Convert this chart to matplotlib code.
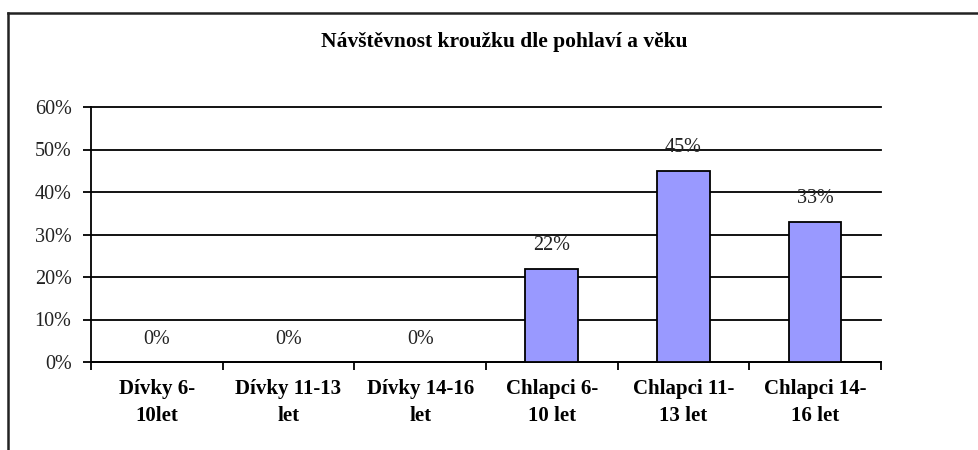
import matplotlib
matplotlib.use("Agg")
import matplotlib.pyplot as plt
from matplotlib.lines import Line2D
from matplotlib.ticker import FuncFormatter

categories = ["Dívky 6-\n10let", "Dívky 11-13\nlet", "Dívky 14-16\nlet",
              "Chlapci 6-\n10 let", "Chlapci 11-\n13 let", "Chlapci 14-\n16 let"]
values = [0, 0, 0, 22, 45, 33]
yticks = [0, 10, 20, 30, 40, 50, 60]
title = "Návštěvnost kroužku dle pohlaví a věku"

plt.rcParams['font.family'] = ['Liberation Serif', 'DejaVu Serif']

fig = plt.figure(figsize=(9.79, 4.5), dpi=100)
ax = fig.add_axes([91/979, 1 - 362/450, (881-91)/979, (362-107)/450])

x = list(range(len(categories)))
ax.bar(x, values, width=0.4, color='#9999ff', edgecolor='black', linewidth=1.3, zorder=3)
for xi, v in zip(x, values):
    ax.annotate(f"{v}%", (xi, v), xytext=(0, 16.5), textcoords='offset points',
                ha='center', va='center', fontsize=14.5, color='#222222')

ax.set_xlim(-0.5, len(categories) - 0.5)
ax.set_ylim(0, 60)
ax.set_yticks(yticks)
ax.yaxis.set_major_formatter(FuncFormatter(lambda v, p: f"{int(v)}%"))
ax.set_xticks([i - 0.5 for i in range(len(categories) + 1)])
ax.set_xticklabels([])
ax.set_xticks(x, minor=True)
ax.set_xticklabels(categories, minor=True, fontsize=15, fontweight='bold', linespacing=1.5)
ax.tick_params(axis='x', which='minor', length=0, pad=12)
ax.tick_params(axis='x', which='major', length=6, width=1.3, direction='out')
ax.tick_params(axis='y', length=6, width=1.3, direction='out', labelsize=14.5, pad=8, labelcolor='#222222')
ax.grid(axis='y', color='black', linewidth=1.3, zorder=0)
for gl in ax.get_ygridlines():
    gl.set_clip_on(False)
for s in ['top', 'right']:
    ax.spines[s].set_visible(False)
for s in ['left', 'bottom']:
    ax.spines[s].set_linewidth(1.3)

fig.text(504/979, 1 - 42/450, title, ha='center', va='center', fontsize=15.5, fontweight='bold')

fig.add_artist(Line2D([8/979, 1], [1 - 13/450, 1 - 13/450], color='#222222', linewidth=1.8, transform=fig.transFigure))
fig.add_artist(Line2D([8/979, 8/979], [0, 1 - 13/450], color='#222222', linewidth=1.8, transform=fig.transFigure))

fig.savefig("out.png", dpi=100)
